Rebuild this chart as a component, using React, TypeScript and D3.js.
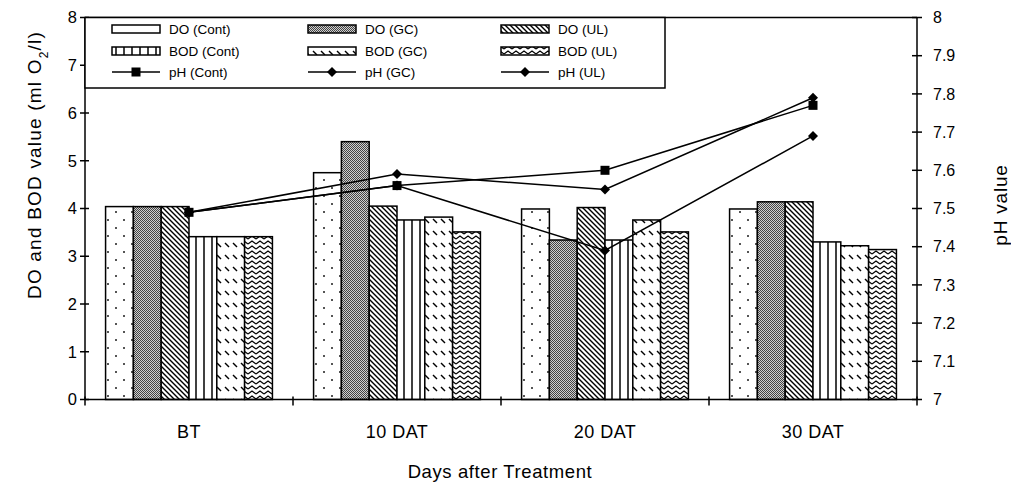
import React from "react";
import * as d3 from "d3";

const categories = ["BT", "10 DAT", "20 DAT", "30 DAT"];
const doCont = [4.04, 4.75, 3.99, 3.99];
const doGC = [4.04, 5.4, 3.34, 4.14];
const doUL = [4.04, 4.05, 4.02, 4.14];
const bodCont = [3.41, 3.76, 3.34, 3.3];
const bodGC = [3.41, 3.82, 3.76, 3.22];
const bodUL = [3.41, 3.51, 3.51, 3.14];
const phCont = [7.49, 7.56, 7.6, 7.77];
const phGC = [7.49, 7.56, 7.39, 7.69];
const phUL = [7.49, 7.59, 7.55, 7.79];
const leftTicks = [0, 1, 2, 3, 4, 5, 6, 7, 8];
const rightTicks = [7, 7.1, 7.2, 7.3, 7.4, 7.5, 7.6, 7.7, 7.8, 7.9, 8];

const barSeries = [
  { name: "DO (Cont)", values: doCont, fill: "url(#pDots)", legendFill: "#fff" },
  { name: "DO (GC)", values: doGC, fill: "url(#pCheck)", legendFill: "url(#pCheck)" },
  { name: "DO (UL)", values: doUL, fill: "url(#pDiag)", legendFill: "url(#pDiag)" },
  { name: "BOD (Cont)", values: bodCont, fill: "url(#pVert)", legendFill: "url(#pVert)" },
  { name: "BOD (GC)", values: bodGC, fill: "url(#pDash)", legendFill: "url(#pDash)" },
  { name: "BOD (UL)", values: bodUL, fill: "url(#pZig)", legendFill: "url(#pZig)" },
];
const lineSeries = [
  { name: "pH (Cont)", values: phCont, marker: "square" },
  { name: "pH (GC)", values: phGC, marker: "diamond" },
  { name: "pH (UL)", values: phUL, marker: "diamond" },
];

const FONT = "Arial, 'Liberation Sans', sans-serif";

function Marker({ x, y, type }: { x: number; y: number; type: string }) {
  if (type === "square") return <rect x={x - 4.5} y={y - 4.5} width={9} height={9} fill="#000" />;
  return <path d={`M${x},${y - 5}L${x + 5},${y}L${x},${y + 5}L${x - 5},${y}Z`} fill="#000" />;
}

export default function App() {
  const L = 85, R = 917, T = 17.5, B = 399.5;
  const x0 = d3.scaleBand<string>().domain(categories).range([L, R]).padding(0);
  const x1 = d3
    .scaleBand<string>()
    .domain(barSeries.map((s) => s.name))
    .range([0, x0.bandwidth()])
    .paddingInner(0)
    .paddingOuter(0.74);
  const yL = d3.scaleLinear().domain([0, 8]).range([B, T]);
  const yR = d3.scaleLinear().domain([7, 8]).range([B, T]);
  const line = d3
    .line<number>()
    .x((_, i) => (x0(categories[i]) as number) + x0.bandwidth() / 2)
    .y((v) => yR(v));

  const legCols = [112, 308, 501];
  const legRows = [29, 51, 72];
  const legendItems = [
    ...barSeries.map((s, i) => ({ kind: "bar", s, col: i % 3, row: Math.floor(i / 3) })),
    ...lineSeries.map((s, i) => ({ kind: "line", s, col: i, row: 2 })),
  ];

  return (
    <svg
      width={1011}
      height={486}
      style={{ position: "absolute", left: 0, top: 0, background: "#fff" }}
      fontFamily={FONT}
    >
      <defs>
        <pattern id="pDots" patternUnits="userSpaceOnUse" width={16} height={16}>
          <rect width={16} height={16} fill="#fff" />
          <rect x={3} y={3} width={2} height={2} fill="#555" />
          <rect x={11} y={11} width={2} height={2} fill="#555" />
        </pattern>
        <pattern id="pCheck" patternUnits="userSpaceOnUse" width={2} height={2}>
          <rect width={2} height={2} fill="#cfcfcf" />
          <rect x={0} y={0} width={1} height={1} fill="#444" />
          <rect x={1} y={1} width={1} height={1} fill="#444" />
        </pattern>
        <pattern id="pDiag" patternUnits="userSpaceOnUse" width={5} height={5}>
          <rect width={5} height={5} fill="#fff" />
          <path d="M-1,-1L6,6M-1,4L1,6M4,-1L6,1" stroke="#000" strokeWidth={1.4} />
        </pattern>
        <pattern id="pVert" patternUnits="userSpaceOnUse" width={8} height={8}>
          <rect width={8} height={8} fill="#fff" />
          <path d="M4,0V8" stroke="#000" strokeWidth={1.5} />
        </pattern>
        <pattern id="pDash" patternUnits="userSpaceOnUse" width={8} height={12}>
          <rect width={8} height={12} fill="#fff" />
          <path d="M1,3L5,7" stroke="#000" strokeWidth={1.4} />
        </pattern>
        <pattern id="pZig" patternUnits="userSpaceOnUse" width={8} height={5}>
          <rect width={8} height={5} fill="#fff" />
          <path d="M0,4L4,1L8,4" stroke="#000" strokeWidth={1.2} fill="none" />
        </pattern>
      </defs>

      {/* frame */}
      <line x1={L} x2={R} y1={T} y2={T} stroke="#000" strokeWidth={1.5} />

      {/* bars */}
      {barSeries.map((s) =>
        s.values.map((v, i) => (
          <rect
            key={s.name + i}
            x={(x0(categories[i]) as number) + (x1(s.name) as number)}
            y={yL(v)}
            width={x1.bandwidth()}
            height={B - yL(v)}
            fill={s.fill}
            stroke="#000"
            strokeWidth={1.5}
          />
        ))
      )}

      {/* pH lines */}
      {lineSeries.map((s) => (
        <g key={s.name}>
          <path d={line(s.values) as string} fill="none" stroke="#000" strokeWidth={1.5} />
          {s.values.map((v, i) => (
            <Marker
              key={i}
              x={(x0(categories[i]) as number) + x0.bandwidth() / 2}
              y={yR(v)}
              type={s.marker}
            />
          ))}
        </g>
      ))}

      {/* left axis */}
      <line x1={L} x2={L} y1={T} y2={B} stroke="#000" strokeWidth={1.5} />
      {leftTicks.map((t) => (
        <g key={t}>
          <line x1={L - 5} x2={L + 4} y1={yL(t)} y2={yL(t)} stroke="#000" strokeWidth={1.5} />
          <text x={L - 8} y={yL(t)} dy="0.35em" textAnchor="end" fontSize={16.5}>
            {t}
          </text>
        </g>
      ))}
      <text transform="translate(34,165) rotate(-90)" textAnchor="middle" dy="0.35em" fontSize={19} letterSpacing={1.2}>
        DO and BOD value (ml O
        <tspan baselineShift="sub" fontSize={12}>2</tspan>
        /l)
      </text>

      {/* right axis */}
      <line x1={R} x2={R} y1={T} y2={B} stroke="#000" strokeWidth={1.5} />
      {rightTicks.map((t) => (
        <g key={t}>
          <line x1={R - 5} x2={R + 5} y1={yR(t)} y2={yR(t)} stroke="#000" strokeWidth={1.5} />
          <text x={R + 16} y={yR(t)} dy="0.35em" textAnchor="start" fontSize={16}>
            {d3.format("~g")(t)}
          </text>
        </g>
      ))}
      <text transform="translate(1000,205) rotate(-90)" textAnchor="middle" dy="0.35em" fontSize={19} letterSpacing={0.8}>
        pH value
      </text>

      {/* bottom axis */}
      <line x1={L} x2={R} y1={B} y2={B} stroke="#000" strokeWidth={1.5} />
      {[L, ...categories.map((c) => (x0(c) as number) + x0.bandwidth())].map((x, i) => (
        <line key={i} x1={x} x2={x} y1={B - 3} y2={B + 6} stroke="#000" strokeWidth={1.5} />
      ))}
      {categories.map((c) => (
        <text
          key={c}
          x={(x0(c) as number) + x0.bandwidth() / 2}
          y={438}
          textAnchor="middle"
          fontSize={18}
          letterSpacing={0.5}
        >
          {c}
        </text>
      ))}
      <text x={500} y={478} textAnchor="middle" fontSize={18.5} letterSpacing={0.6}>
        Days after Treatment
      </text>

      {/* legend */}
      <rect x={L} y={T} width={580} height={70.5} fill="#fff" stroke="#000" strokeWidth={1.5} />
      {legendItems.map((it: any) => {
        const x = legCols[it.col];
        const y = legRows[it.row];
        return (
          <g key={it.s.name}>
            {it.kind === "bar" ? (
              <rect x={x} y={y - 4} width={48} height={8} fill={it.s.legendFill} stroke="#000" strokeWidth={1.5} />
            ) : (
              <g>
                <line x1={x} x2={x + 48} y1={y} y2={y} stroke="#000" strokeWidth={1.5} />
                <Marker x={x + 24} y={y} type={it.s.marker === "square" ? "square" : "diamond"} />
              </g>
            )}
            <text x={x + 57} y={y} dy="0.35em" fontSize={13.5}>
              {it.s.name}
            </text>
          </g>
        );
      })}
    </svg>
  );
}
